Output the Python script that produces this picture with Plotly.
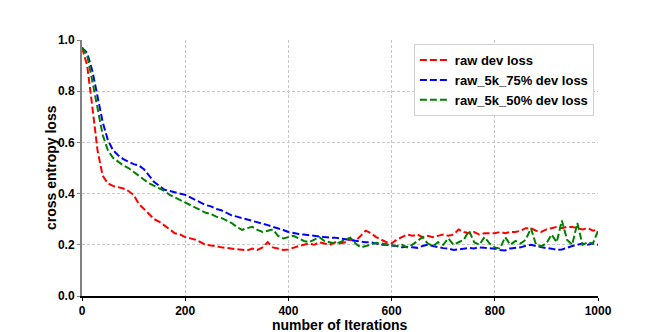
import plotly.graph_objects as go

iterations = list(range(0, 1001, 10))

raw_dev_loss = [
    0.97, 0.90, 0.74, 0.57, 0.47, 0.44, 0.43, 0.425, 0.42, 0.41,
    0.395, 0.36, 0.34, 0.32, 0.30, 0.29, 0.275, 0.26, 0.245, 0.24,
    0.23, 0.225, 0.22, 0.21, 0.20, 0.197, 0.195, 0.19, 0.188, 0.185,
    0.182, 0.18, 0.178, 0.185, 0.18, 0.19, 0.21, 0.19, 0.185, 0.18,
    0.182, 0.19, 0.195, 0.20, 0.205, 0.20, 0.21, 0.205, 0.20, 0.21,
    0.205, 0.21, 0.22, 0.215, 0.235, 0.255, 0.245, 0.23, 0.22, 0.21,
    0.205, 0.22, 0.23, 0.24, 0.235, 0.24, 0.23, 0.235, 0.23, 0.235,
    0.24, 0.235, 0.24, 0.26, 0.25, 0.245, 0.25, 0.24, 0.245, 0.245,
    0.245, 0.25, 0.245, 0.25, 0.25, 0.255, 0.265, 0.265, 0.255, 0.25,
    0.26, 0.265, 0.27, 0.265, 0.27, 0.27, 0.265, 0.26, 0.265, 0.255,
    0.26,
]

raw_5k_75_dev_loss = [
    0.97, 0.95, 0.88, 0.78, 0.68, 0.61, 0.57, 0.55, 0.535, 0.525,
    0.515, 0.51, 0.495, 0.47, 0.445, 0.43, 0.415, 0.41, 0.405, 0.40,
    0.395, 0.385, 0.375, 0.365, 0.355, 0.35, 0.34, 0.335, 0.325, 0.315,
    0.31, 0.305, 0.30, 0.295, 0.29, 0.283, 0.277, 0.27, 0.265, 0.258,
    0.25, 0.245, 0.242, 0.24, 0.237, 0.235, 0.232, 0.23, 0.228, 0.228,
    0.225, 0.222, 0.22, 0.218, 0.214, 0.21, 0.21, 0.205, 0.20, 0.20,
    0.198, 0.195, 0.19, 0.192, 0.19, 0.188, 0.195, 0.20, 0.195, 0.19,
    0.187, 0.185, 0.18, 0.182, 0.185, 0.188, 0.186, 0.19, 0.188, 0.187,
    0.185, 0.18, 0.178, 0.186, 0.187, 0.19, 0.196, 0.20, 0.195, 0.19,
    0.187, 0.185, 0.18, 0.182, 0.19, 0.195, 0.20, 0.205, 0.20, 0.205,
    0.20,
]

raw_5k_50_dev_loss = [
    0.97, 0.94, 0.84, 0.73, 0.63, 0.57, 0.54, 0.525, 0.51, 0.50,
    0.485, 0.47, 0.455, 0.44, 0.43, 0.42, 0.41, 0.395, 0.385, 0.375,
    0.365, 0.355, 0.345, 0.335, 0.325, 0.32, 0.31, 0.305, 0.295, 0.285,
    0.27, 0.258, 0.265, 0.27, 0.258, 0.25, 0.255, 0.26, 0.235, 0.225,
    0.23, 0.235, 0.225, 0.215, 0.21, 0.22, 0.23, 0.215, 0.21, 0.205,
    0.21, 0.22, 0.228, 0.205, 0.19, 0.195, 0.20, 0.208, 0.205, 0.20,
    0.198, 0.195, 0.20, 0.19, 0.20, 0.215, 0.23, 0.205, 0.195, 0.21,
    0.20, 0.225, 0.20, 0.21, 0.22, 0.255, 0.21, 0.20, 0.23, 0.205,
    0.19, 0.185, 0.23, 0.20, 0.215, 0.205, 0.22, 0.265, 0.20, 0.195,
    0.205, 0.24, 0.21, 0.295, 0.22, 0.20, 0.285, 0.20, 0.21, 0.205,
    0.255,
]

series_names = ["raw dev loss", "raw_5k_75% dev loss", "raw_5k_50% dev loss"]
series_colors = ["#ff0000", "#0000ff", "#008000"]
series_values = [raw_dev_loss, raw_5k_75_dev_loss, raw_5k_50_dev_loss]

x_ticks = [0, 200, 400, 600, 800, 1000]
y_ticks = [0.0, 0.2, 0.4, 0.6, 0.8, 1.0]
y_tick_labels = ["0.0", "0.2", "0.4", "0.6", "0.8", "1.0"]
x_title = "number of Iterations"
y_title = "cross entropy loss"

fig = go.Figure()
for name, color, vals in zip(series_names, series_colors, series_values):
    fig.add_trace(go.Scatter(
        x=iterations, y=vals, mode="lines", name=name,
        line=dict(color=color, width=2, dash="7px,3px"),
    ))

font_family = "Liberation Sans, Arial, sans-serif"

fig.update_layout(
    width=656, height=324,
    margin=dict(l=74, r=66, t=32, b=36),
    paper_bgcolor="white", plot_bgcolor="white",
    font=dict(family=font_family, color="black", size=12, weight="bold"),
    showlegend=True,
    legend=dict(
        x=0.992, y=0.984, xanchor="right", yanchor="top",
        bgcolor="white", bordercolor="#d0d0d0", borderwidth=1,
        font=dict(family=font_family, size=13, weight="bold", color="black"),
        itemwidth=30, tracegroupgap=0,
    ),
    xaxis=dict(
        range=[0, 1000], tickvals=x_ticks, automargin=False,
        showgrid=True, gridcolor="#c8c8c8", griddash="3px,2px", gridwidth=1,
        showline=True, linecolor="black", linewidth=1.5,
        ticks="outside", ticklen=3, tickcolor="black",
        zeroline=False,
        tickfont=dict(size=12, weight="bold"),
    ),
    yaxis=dict(
        range=[0, 1.0], tickvals=y_ticks, ticktext=y_tick_labels, automargin=False,
        showgrid=True, gridcolor="#c8c8c8", griddash="3px,2px", gridwidth=1,
        showline=True, linecolor="#808080", linewidth=2,
        ticks="outside", ticklen=3, tickcolor="#808080",
        zeroline=False,
        tickfont=dict(size=12, weight="bold"),
    ),
    annotations=[
        dict(text=x_title, xref="paper", yref="paper", x=0.5, y=0,
             xanchor="center", yanchor="top", yshift=-19, showarrow=False,
             font=dict(size=14, weight="bold", family=font_family)),
        dict(text=y_title, xref="paper", yref="paper", x=0, y=0.5,
             xanchor="center", yanchor="middle", xshift=-31, textangle=-90,
             showarrow=False,
             font=dict(size=14, weight="bold", family=font_family)),
    ],
)

fig.write_html("out.html")
